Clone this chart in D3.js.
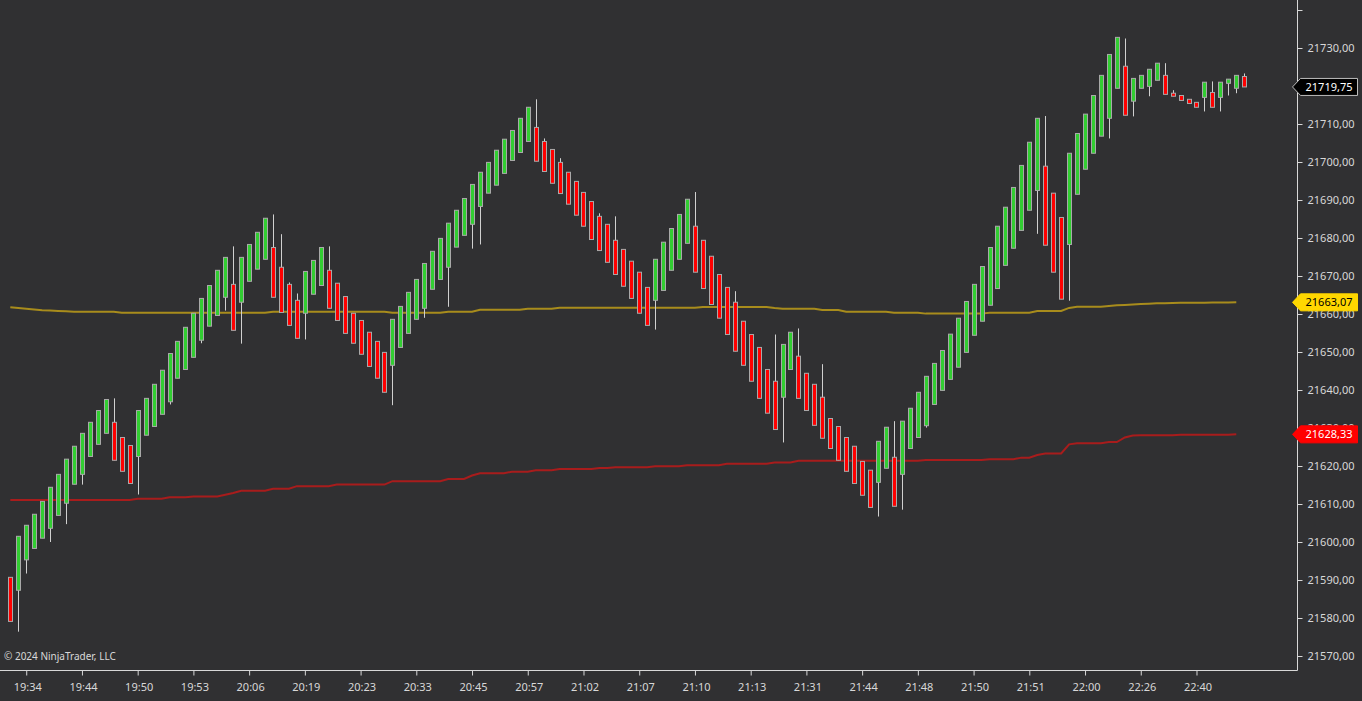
<!DOCTYPE html>
<html>
<head>
<meta charset="utf-8">
<script src="https://cdn.jsdelivr.net/npm/d3@7"></script>
<style>
  html, body { margin: 0; padding: 0; background: #303032; }
  svg { display: block; }
  text { font-family: "Noto Sans", "Open Sans", sans-serif; }
</style>
</head>
<body>
<svg id="chart" width="1362" height="701"></svg>
<script>
// ---------------- DATA ----------------
const timeLabels = ["19:34","19:44","19:50","19:53","20:06","20:19","20:23","20:33","20:45","20:57","21:02","21:07","21:10","21:13","21:31","21:44","21:48","21:50","21:51","22:00","22:26","22:40"];
const timeLabelBars = [2,9,16,23,30,37,44,51,58,65,72,79,86,93,100,107,114,121,128,135,142,149];

const yTicks = [21570,21580,21590,21600,21610,21620,21630,21640,21650,21660,21670,21680,21690,21700,21710,21720,21730,21740];

const opens = [21590.7,21587.3,21595.3,21598.3,21601.0,21603.6,21607.0,21610.2,21615.2,21617.8,21622.5,21625.7,21628.6,21631.5,21627.5,21625.4,21622.5,21628.1,21630.4,21633.6,
21636.9,21643.1,21645.4,21648.6,21653.1,21656.8,21659.6,21664.4,21667.8,21663.1,21668.6,21671.8,21674.4,21677.5,21672.3,21667.8,21663.6,21660.2,21665.2,21667.5,
21671.5,21668.1,21664.6,21660.2,21658.3,21655.2,21652.8,21649.9,21646.5,21651.2,21654.9,21658.6,21661.5,21666.5,21669.1,21672.3,21677.6,21680.7,21683.6,21688.3,
21691.8,21693.9,21697.0,21700.4,21702.5,21705.4,21709.1,21705.4,21703.3,21699.9,21697.3,21694.9,21692.0,21689.6,21685.7,21683.6,21679.4,21677.0,21673.9,21671.0,
21667.0,21663.6,21666.2,21671.5,21674.4,21678.6,21683.1,21679.4,21675.2,21670.4,21667.0,21663.1,21658.1,21654.6,21651.2,21645.4,21642.3,21638.1,21645.4,21648.9,
21644.4,21641.5,21638.1,21632.5,21630.4,21627.5,21625.2,21621.2,21618.9,21615.7,21619.4,21622.3,21617.8,21624.6,21627.5,21630.6,21636.2,21639.9,21642.8,21646.0,
21649.9,21654.4,21658.1,21662.3,21666.7,21672.8,21677.3,21682.0,21687.3,21692.5,21698.9,21691.8,21685.4,21678.3,21691.5,21698.1,21702.3,21706.8,21711.5,21719.4,
21725.2,21716.0,21719.4,21719.9,21721.5,21722.8,21718.1,21717.5,21716.5,21715.7,21717.0,21718.3,21717.0,21720.7,21719.4,21722.5];

const highs = [21590.7,21601.5,21604.4,21607.3,21610.7,21614.4,21617.8,21621.8,21625.2,21628.6,21631.5,21634.6,21637.5,21637.8,21627.5,21625.4,21634.6,21637.8,21641.5,21645.2,
21649.6,21652.8,21656.5,21660.2,21664.1,21667.5,21671.5,21674.9,21677.8,21674.9,21678.3,21681.5,21685.2,21686.2,21681.0,21668.3,21665.4,21671.2,21674.1,21677.5,
21677.8,21668.1,21664.6,21660.2,21658.3,21655.2,21652.8,21649.9,21658.6,21662.0,21665.7,21669.1,21673.3,21676.5,21679.9,21683.9,21687.3,21690.4,21694.1,21697.3,
21699.9,21703.1,21706.0,21708.3,21711.5,21714.4,21716.5,21706.2,21703.3,21701.0,21697.3,21694.9,21692.0,21689.6,21686.5,21683.6,21685.7,21677.0,21673.9,21671.0,
21667.0,21674.4,21678.9,21682.5,21686.2,21690.2,21692.1,21679.4,21675.2,21670.4,21667.0,21666.0,21658.1,21654.6,21651.2,21645.4,21654.6,21652.0,21655.2,21656.2,
21644.4,21641.5,21646.8,21632.5,21630.4,21627.5,21625.2,21621.2,21618.9,21626.5,21630.2,21631.8,21631.8,21635.2,21639.4,21643.6,21647.0,21650.4,21654.7,21658.9,
21663.3,21667.8,21672.5,21677.5,21683.1,21688.1,21693.3,21699.1,21705.2,21711.5,21712.1,21691.8,21685.4,21702.3,21707.5,21712.6,21717.5,21722.8,21728.3,21732.8,
21732.5,21722.0,21722.8,21724.4,21726.0,21726.0,21718.9,21717.5,21716.5,21715.7,21721.0,21721.2,21721.0,21721.8,21722.8,21723.3];

const lows = [21579.1,21576.4,21591.7,21598.3,21601.0,21600.0,21607.0,21604.7,21615.2,21615.1,21622.5,21625.7,21628.6,21621.5,21618.6,21615.4,21612.5,21628.1,21630.4,21633.6,
21636.2,21643.1,21645.4,21648.6,21652.3,21656.8,21659.6,21660.9,21655.7,21652.2,21668.6,21671.8,21674.4,21664.4,21660.4,21657.0,21653.6,21653.3,21665.2,21667.5,
21661.5,21658.3,21654.9,21652.3,21649.4,21646.2,21643.1,21639.4,21636.0,21651.2,21654.9,21658.6,21659.0,21666.5,21669.1,21661.9,21677.6,21680.7,21677.2,21678.3,
21691.8,21693.9,21697.0,21700.4,21702.5,21705.4,21700.2,21697.5,21694.4,21691.7,21688.9,21686.0,21683.1,21679.6,21676.7,21673.6,21670.4,21667.3,21664.1,21660.2,
21657.0,21655.9,21666.2,21671.5,21674.4,21678.6,21671.0,21666.7,21662.5,21658.9,21654.6,21650.2,21646.5,21642.3,21637.8,21633.9,21629.6,21626.2,21645.4,21637.8,
21634.6,21630.7,21627.3,21624.6,21621.5,21618.6,21615.4,21612.3,21609.1,21606.7,21619.4,21609.4,21608.5,21624.6,21627.5,21630.1,21636.2,21639.9,21642.8,21646.0,
21649.9,21654.4,21658.1,21662.3,21666.7,21672.8,21677.3,21682.0,21687.3,21681.1,21678.1,21671.0,21663.9,21663.5,21691.5,21698.1,21702.3,21706.8,21706.2,21719.4,
21712.3,21712.0,21719.4,21717.3,21721.5,21717.8,21717.3,21716.2,21715.4,21714.4,21713.3,21714.4,21713.3,21717.5,21718.1,21719.75];

const closes = [21579.1,21601.5,21604.4,21607.3,21610.7,21614.4,21617.8,21621.8,21625.2,21628.6,21631.5,21634.6,21637.5,21621.5,21618.6,21615.4,21634.6,21637.8,21641.5,21645.2,
21649.6,21652.8,21656.5,21660.2,21664.1,21667.5,21671.5,21674.9,21655.7,21674.9,21678.3,21681.5,21685.2,21664.4,21660.4,21657.0,21653.6,21671.2,21674.1,21677.5,
21661.5,21658.3,21654.9,21652.3,21649.4,21646.2,21643.1,21639.4,21658.6,21662.0,21665.7,21669.1,21673.3,21676.5,21679.9,21683.9,21687.3,21690.4,21694.1,21697.3,
21699.9,21703.1,21706.0,21708.3,21711.5,21714.4,21700.2,21697.5,21694.4,21691.7,21688.9,21686.0,21683.1,21679.6,21676.7,21673.6,21670.4,21667.3,21664.1,21660.2,
21657.0,21674.4,21678.9,21682.5,21686.2,21690.2,21671.0,21666.7,21662.5,21658.9,21654.6,21650.2,21646.5,21642.3,21637.8,21633.9,21629.6,21652.0,21655.2,21637.8,
21634.6,21630.7,21627.3,21624.6,21621.5,21618.6,21615.4,21612.3,21609.1,21626.5,21630.2,21609.4,21631.8,21635.2,21639.4,21643.6,21647.0,21650.4,21654.7,21658.9,
21663.3,21667.8,21672.5,21677.5,21683.1,21688.1,21693.3,21699.1,21705.2,21711.5,21678.1,21671.0,21663.9,21702.3,21707.5,21712.6,21717.5,21722.8,21728.3,21732.8,
21712.3,21722.0,21722.8,21724.4,21726.0,21717.8,21717.3,21716.2,21715.4,21714.4,21721.0,21714.4,21721.0,21721.8,21722.8,21719.75];

// moving average (gold)
const maGold = [21661.8,21661.6,21661.4,21661.2,21661.0,21660.9,21660.8,21660.7,
21660.6,21660.6,21660.6,21660.6,21660.6,21660.6,
21660.3,21660.3,21660.3,21660.3,21660.3,21660.3,21660.3,21660.3,21660.3,21660.3,21660.3,21660.3,21660.3,21660.3,21660.3,21660.3,21660.3,21660.3,21660.3,
21660.6,21660.6,21660.6,21660.6,21660.6,21660.6,21660.6,21660.6,21660.6,21660.6,21660.6,21660.6,21660.6,21660.6,21660.6,
21660.3,21660.3,21660.3,21660.3,21660.3,21660.3,21660.3,
21660.6,21660.6,21660.6,21660.6,
21661.1,21661.1,21661.1,21661.1,21661.1,21661.1,
21661.4,21661.4,21661.4,21661.4,
21661.65,21661.65,21661.65,21661.65,21661.65,21661.65,21661.65,21661.65,21661.65,21661.65,21661.65,21661.65,21661.65,21661.65,21661.65,21661.65,21661.65,21661.65,
21661.85,21661.85,21661.85,21661.85,21661.85,21661.85,21661.85,21661.85,21661.85,
21661.6,
21661.4,21661.4,21661.4,21661.4,21661.4,
21661.05,21661.05,21661.05,
21660.6,21660.6,21660.6,21660.6,21660.6,21660.6,
21660.35,21660.35,21660.35,21660.35,
21660.1,21660.1,21660.1,21660.1,21660.1,21660.1,21660.1,21660.1,
21660.35,21660.35,21660.35,21660.35,21660.35,21660.35,
21660.8,21660.8,21660.8,21660.8,
21661.6,
21661.9,21661.9,21661.9,21661.9,
21662.1,21662.3,21662.4,21662.5,21662.6,21662.7,21662.8,21662.85,21662.9,21662.95,21662.95,21662.95,21662.95,21663.0,21663.0,21663.0,21663.07];

// moving average (red)
const maRed = [21611.05,21611.05,21611.05,21611.05,21611.05,21611.05,21611.05,21611.05,21611.05,21611.05,21611.05,21611.05,21611.05,21611.05,21611.05,21611.05,
21611.4,21611.4,21611.4,21611.4,
21611.8,21611.8,21611.8,
21612.0,21612.0,21612.0,21612.0,
21612.45,21612.9,
21613.5,21613.5,21613.5,21613.5,
21614.0,21614.0,21614.0,
21614.7,21614.7,21614.7,21614.7,21614.7,
21615.1,21615.1,21615.1,21615.1,21615.1,21615.1,21615.1,
21616.0,21616.0,21616.0,21616.0,21616.0,21616.0,21616.0,
21616.6,21616.6,21616.6,
21617.5,
21618.1,21618.1,21618.1,21618.1,
21618.5,21618.5,21618.5,
21618.9,21618.9,21618.9,
21619.2,21619.2,21619.2,21619.2,21619.2,
21619.5,21619.5,
21619.7,21619.7,21619.7,21619.7,21619.7,
21619.95,21619.95,21619.95,21619.95,
21620.2,21620.2,21620.2,21620.2,21620.2,
21620.6,21620.6,21620.6,21620.6,21620.6,21620.6,
21620.95,21620.95,21620.95,
21621.4,21621.4,21621.4,21621.4,21621.4,21621.4,21621.4,21621.4,21621.4,21621.4,21621.4,21621.4,21621.4,21621.4,21621.4,21621.4,
21621.6,21621.6,21621.6,21621.6,21621.6,21621.6,21621.6,21621.6,
21621.8,21621.8,21621.8,21621.8,
21622.2,21622.2,
21622.9,
21623.3,21623.3,21623.3,
21625.7,
21626.0,21626.0,21626.0,21626.0,
21626.3,21626.3,
21627.5,21628.0,
21628.1,21628.1,21628.1,21628.1,21628.1,
21628.2,21628.2,21628.2,21628.2,21628.2,21628.2,21628.2,
21628.33];

const lastPrice = 21719.75;

// ---------------- CHART ----------------
const W = 1362, H = 701;
const plotRight = 1297, plotBottom = 670;
const svg = d3.select("#chart");

svg.append("rect").attr("width", W).attr("height", H).attr("fill", "#303032");

const x = d3.scaleLinear().domain([0, opens.length - 1]).range([10.3, 10.3 + (opens.length - 1) * 7.961]);
const y = d3.scaleLinear().domain([21570, 21730]).range([656, 48]);

const fmt = v => v.toFixed(2).replace(".", ",");

// clip for plot
svg.append("clipPath").attr("id", "plotClip")
  .append("rect").attr("x", 0).attr("y", 0).attr("width", plotRight).attr("height", plotBottom);

const plot = svg.append("g").attr("clip-path", "url(#plotClip)");

// moving averages
const lineGen = d3.line().x((d, i) => x(i)).y(d => y(d));
plot.append("path").datum(maRed)
  .attr("fill", "none").attr("stroke", "#a81c1c").attr("stroke-width", 2)
  .attr("d", lineGen);
plot.append("path").datum(maGold)
  .attr("fill", "none").attr("stroke", "#a88c1c").attr("stroke-width", 2)
  .attr("d", lineGen);

// candles
const bars = opens.map((o, i) => ({ i, o, h: highs[i], l: lows[i], c: closes[i] }));
const cg = plot.append("g");
cg.selectAll("line.wick").data(bars).join("line")
  .attr("class", "wick")
  .attr("x1", d => Math.round(x(d.i)) + 0.5)
  .attr("x2", d => Math.round(x(d.i)) + 0.5)
  .attr("y1", d => y(d.h))
  .attr("y2", d => y(d.l))
  .attr("stroke", "#d0d0d0").attr("stroke-width", 1);
cg.selectAll("rect.body").data(bars).join("rect")
  .attr("class", "body")
  .attr("x", d => Math.round(x(d.i)) - 1.5)
  .attr("width", 4)
  .attr("y", d => y(Math.max(d.o, d.c)))
  .attr("height", d => Math.max(1, Math.abs(y(d.o) - y(d.c))))
  .attr("fill", d => d.c >= d.o ? "#32cd32" : "#ff0000")
  .attr("stroke", "#a9a9a9").attr("stroke-width", 1);

// axes lines
svg.append("line").attr("x1", plotRight + 0.5).attr("x2", plotRight + 0.5).attr("y1", 0).attr("y2", plotBottom + 0.5)
  .attr("stroke", "#d8d8d8").attr("stroke-width", 1);
svg.append("line").attr("x1", 0).attr("x2", plotRight + 0.5).attr("y1", plotBottom + 0.5).attr("y2", plotBottom + 0.5)
  .attr("stroke", "#d8d8d8").attr("stroke-width", 1);

// y axis
const yAxis = d3.axisRight(y).tickValues(yTicks).tickSize(5).tickSizeOuter(0).tickPadding(5)
  .tickFormat(v => v > 21735 ? "" : fmt(v));
const yg = svg.append("g").attr("transform", `translate(${plotRight + 0.5},0)`).call(yAxis);
yg.select(".domain").remove();
yg.selectAll(".tick line").attr("stroke", "#d8d8d8");
yg.selectAll(".tick text").attr("fill", "#d8d8d8").style("font-size", "11px");

// x axis
const xAxis = d3.axisBottom(x).tickValues(timeLabelBars).tickSize(5).tickSizeOuter(0).tickPadding(8)
  .tickFormat((v, k) => timeLabels[k]);
const xg = svg.append("g").attr("transform", `translate(0,${plotBottom + 0.5})`).call(xAxis);
xg.select(".domain").remove();
xg.selectAll(".tick line").attr("stroke", "#d8d8d8");
xg.selectAll(".tick text").attr("fill", "#d8d8d8").style("font-size", "11px").attr("dx", 1);

// copyright
svg.append("text").attr("x", 4).attr("y", 660).attr("fill", "#d8d8d8")
  .style("font-size", "10px").text("© 2024 NinjaTrader, LLC");

// price markers
const markers = [
  { v: maRed[maRed.length - 1], fill: "#ff0000", stroke: "#ff0000", text: "#ffffff" },
  { v: maGold[maGold.length - 1], fill: "#ffd700", stroke: "#ffd700", text: "#000000" },
  { v: lastPrice, fill: "#000000", stroke: "#bdbdbd", text: "#ffffff" }
];
markers.forEach(m => {
  const yv = y(m.v);
  const g = svg.append("g");
  g.append("path")
    .attr("d", `M1292.5,${yv} L1300.5,${yv - 8.5} L1357.5,${yv - 8.5} L1357.5,${yv + 8.5} L1300.5,${yv + 8.5} Z`)
    .attr("fill", m.fill).attr("stroke", m.stroke).attr("stroke-width", 1);
  g.append("text").attr("x", 1329).attr("y", yv).attr("dy", "0.35em")
    .attr("text-anchor", "middle").attr("fill", m.text).style("font-size", "11px")
    .text(fmt(m.v));
});
</script>
</body>
</html>
